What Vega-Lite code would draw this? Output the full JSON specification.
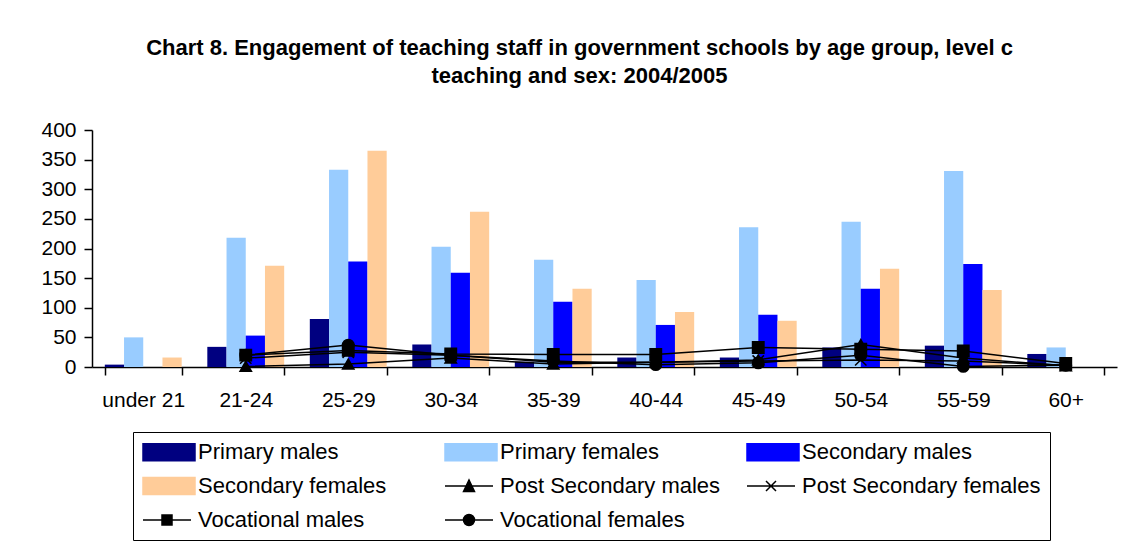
{
  "$schema": "https://vega.github.io/schema/vega-lite/v6.json",
  "width": 1025,
  "height": 237,
  "autosize": {"type": "none"},
  "padding": {"left": 92, "top": 130, "right": 27, "bottom": 192},
  "background": "white",
  "title": {
    "text": ["Chart 8. Engagement of teaching staff in government schools by age group, level c", "teaching and sex: 2004/2005"],
    "font": "Liberation Sans",
    "fontSize": 22,
    "fontWeight": "bold",
    "color": "black",
    "anchor": "middle",
    "dx": -25,
    "offset": 31,
    "lineHeight": 28
  },
  "config": {"view": {"stroke": null}, "font": "Liberation Sans"},
  "datasets": {
    "bars": [
      {"age": "under 21", "series": "Primary males", "value": 4},
      {"age": "under 21", "series": "Primary females", "value": 50},
      {"age": "under 21", "series": "Secondary males", "value": 0},
      {"age": "under 21", "series": "Secondary females", "value": 16},
      {"age": "21-24", "series": "Primary males", "value": 34},
      {"age": "21-24", "series": "Primary females", "value": 218},
      {"age": "21-24", "series": "Secondary males", "value": 53},
      {"age": "21-24", "series": "Secondary females", "value": 171},
      {"age": "25-29", "series": "Primary males", "value": 81},
      {"age": "25-29", "series": "Primary females", "value": 333},
      {"age": "25-29", "series": "Secondary males", "value": 178},
      {"age": "25-29", "series": "Secondary females", "value": 365},
      {"age": "30-34", "series": "Primary males", "value": 38},
      {"age": "30-34", "series": "Primary females", "value": 203},
      {"age": "30-34", "series": "Secondary males", "value": 159},
      {"age": "30-34", "series": "Secondary females", "value": 262},
      {"age": "35-39", "series": "Primary males", "value": 9},
      {"age": "35-39", "series": "Primary females", "value": 181},
      {"age": "35-39", "series": "Secondary males", "value": 110},
      {"age": "35-39", "series": "Secondary females", "value": 132},
      {"age": "40-44", "series": "Primary males", "value": 16},
      {"age": "40-44", "series": "Primary females", "value": 147},
      {"age": "40-44", "series": "Secondary males", "value": 71},
      {"age": "40-44", "series": "Secondary females", "value": 93},
      {"age": "45-49", "series": "Primary males", "value": 16},
      {"age": "45-49", "series": "Primary females", "value": 236},
      {"age": "45-49", "series": "Secondary males", "value": 88},
      {"age": "45-49", "series": "Secondary females", "value": 78},
      {"age": "50-54", "series": "Primary males", "value": 33},
      {"age": "50-54", "series": "Primary females", "value": 245},
      {"age": "50-54", "series": "Secondary males", "value": 132},
      {"age": "50-54", "series": "Secondary females", "value": 166},
      {"age": "55-59", "series": "Primary males", "value": 36},
      {"age": "55-59", "series": "Primary females", "value": 331},
      {"age": "55-59", "series": "Secondary males", "value": 174},
      {"age": "55-59", "series": "Secondary females", "value": 130},
      {"age": "60+", "series": "Primary males", "value": 22},
      {"age": "60+", "series": "Primary females", "value": 33},
      {"age": "60+", "series": "Secondary males", "value": 0},
      {"age": "60+", "series": "Secondary females", "value": 0}
    ],
    "lines": [
      {"age": "21-24", "series": "Post Secondary males", "value": 1},
      {"age": "25-29", "series": "Post Secondary males", "value": 5},
      {"age": "30-34", "series": "Post Secondary males", "value": 15},
      {"age": "35-39", "series": "Post Secondary males", "value": 5},
      {"age": "40-44", "series": "Post Secondary males", "value": 8},
      {"age": "45-49", "series": "Post Secondary males", "value": 12},
      {"age": "50-54", "series": "Post Secondary males", "value": 38},
      {"age": "55-59", "series": "Post Secondary males", "value": 15},
      {"age": "60+", "series": "Post Secondary males", "value": 2},
      {"age": "21-24", "series": "Post Secondary females", "value": 15},
      {"age": "25-29", "series": "Post Secondary females", "value": 25},
      {"age": "30-34", "series": "Post Secondary females", "value": 20},
      {"age": "35-39", "series": "Post Secondary females", "value": 8},
      {"age": "40-44", "series": "Post Secondary females", "value": 8},
      {"age": "45-49", "series": "Post Secondary females", "value": 10},
      {"age": "50-54", "series": "Post Secondary females", "value": 12},
      {"age": "55-59", "series": "Post Secondary females", "value": 10},
      {"age": "60+", "series": "Post Secondary females", "value": 3},
      {"age": "21-24", "series": "Vocational males", "value": 20},
      {"age": "25-29", "series": "Vocational males", "value": 28},
      {"age": "30-34", "series": "Vocational males", "value": 22},
      {"age": "35-39", "series": "Vocational males", "value": 21},
      {"age": "40-44", "series": "Vocational males", "value": 21},
      {"age": "45-49", "series": "Vocational males", "value": 33},
      {"age": "50-54", "series": "Vocational males", "value": 30},
      {"age": "55-59", "series": "Vocational males", "value": 27},
      {"age": "60+", "series": "Vocational males", "value": 6},
      {"age": "21-24", "series": "Vocational females", "value": 20},
      {"age": "25-29", "series": "Vocational females", "value": 37},
      {"age": "30-34", "series": "Vocational females", "value": 20},
      {"age": "35-39", "series": "Vocational females", "value": 10},
      {"age": "40-44", "series": "Vocational females", "value": 4},
      {"age": "45-49", "series": "Vocational females", "value": 7},
      {"age": "50-54", "series": "Vocational females", "value": 20},
      {"age": "55-59", "series": "Vocational females", "value": 1},
      {"age": "60+", "series": "Vocational females", "value": 3}
    ]
  },
  "encoding": {
    "x": {
      "field": "age",
      "type": "nominal",
      "sort": ["under 21", "21-24", "25-29", "30-34", "35-39", "40-44", "45-49", "50-54", "55-59", "60+"],
      "scale": {"paddingInner": 0.25, "paddingOuter": 0.125},
      "axis": {
        "title": null,
        "labelAngle": 0,
        "labelFont": "Liberation Sans",
        "labelFontSize": 21,
        "labelColor": "black",
        "labelPadding": 14,
        "domainColor": "black",
        "domainWidth": 1.5,
        "tickColor": "black",
        "tickWidth": 1.5,
        "tickSize": 8,
        "tickBand": "extent"
      }
    },
    "y": {
      "field": "value",
      "type": "quantitative",
      "scale": {"domain": [0, 400], "nice": false},
      "axis": {
        "title": null,
        "values": [0, 50, 100, 150, 200, 250, 300, 350, 400],
        "grid": false,
        "labelFont": "Liberation Sans",
        "labelFontSize": 21,
        "labelColor": "black",
        "labelPadding": 8,
        "domainColor": "black",
        "domainWidth": 1.5,
        "tickColor": "black",
        "tickWidth": 1.5,
        "tickSize": 8
      }
    },
    "color": {
      "field": "series",
      "type": "nominal",
      "scale": {
        "domain": ["Primary males", "Primary females", "Secondary males", "Secondary females", "Post Secondary males", "Post Secondary females", "Vocational males", "Vocational females"],
        "range": ["#000080", "#99CCFF", "#0000FF", "#FFCC99", "#000000", "#000000", "#000000", "#000000"]
      },
      "legend": {
        "title": null,
        "orient": "none",
        "legendX": 41,
        "legendY": 302,
        "columns": 3,
        "direction": "horizontal",
        "gridAlign": "all",
        "columnPadding": 5,
        "rowPadding": 10,
        "padding": 9,
        "strokeColor": "black",
        "labelFont": "Liberation Sans",
        "labelFontSize": 22,
        "labelColor": "black",
        "labelLimit": 400,
        "labelOffset": 34,
        "symbolSize": 400,
        "symbolStrokeWidth": 1.5,
        "encode": {
          "symbols": {
            "update": {
              "fill": {"signal": "scale('color', datum.value)"},
              "stroke": {"signal": "scale('color', datum.value)"},
              "strokeWidth": {"value": 1.5},
              "opacity": {"value": 1},
              "shape": {"signal": "datum.value === 'Post Secondary males' ? 'M-1,0H3.8M0.85,0.55L1.4,-0.6L1.95,0.55Z' : datum.value === 'Post Secondary females' ? 'M-1,0H3.8M0.9,-0.5L1.9,0.5M0.9,0.5L1.9,-0.5' : datum.value === 'Vocational males' ? 'M-1,0H3.8M0.9,-0.5H1.9V0.5H0.9Z' : datum.value === 'Vocational females' ? 'M-1,0H3.8M1.95,0A0.55,0.55,0,1,1,0.85,0A0.55,0.55,0,1,1,1.95,0Z' : 'M-1,-0.85H4.2V0.85H-1Z'"}
            }
          }
        }
      }
    }
  },
  "layer": [
    {
      "data": {"name": "bars"},
      "mark": {"type": "bar"},
      "encoding": {
        "xOffset": {
          "field": "series",
          "type": "nominal",
          "scale": {"domain": ["Primary males", "Primary females", "Secondary males", "Secondary females"], "paddingInner": 0, "paddingOuter": 0}
        }
      }
    },
    {
      "data": {"name": "lines"},
      "mark": {"type": "line", "strokeWidth": 1.5},
      "encoding": {"detail": {"field": "series", "type": "nominal"}}
    },
    {
      "data": {"name": "lines"},
      "mark": {"type": "point", "filled": true, "size": 130, "strokeWidth": 1.5, "opacity": 1},
      "encoding": {
        "shape": {
          "field": "series",
          "type": "nominal",
          "legend": null,
          "scale": {
            "domain": ["Post Secondary males", "Post Secondary females", "Vocational males", "Vocational females"],
            "range": ["triangle-up", "M-1,-1L1,1M-1,1L1,-1", "square", "circle"]
          }
        },
        "stroke": {"value": "black"}
      }
    }
  ]
}
